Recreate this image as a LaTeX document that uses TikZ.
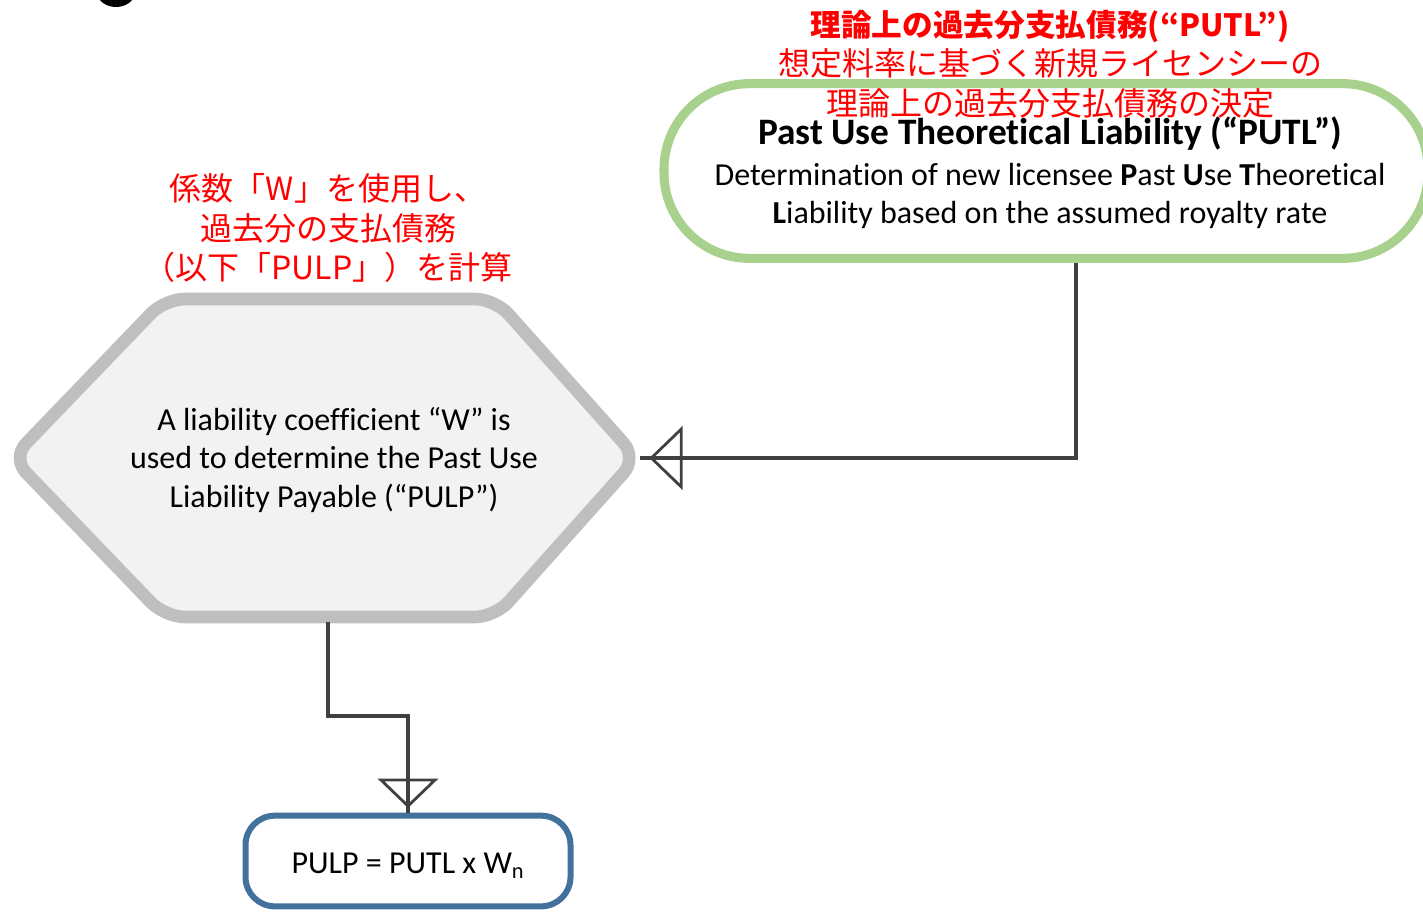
\documentclass[tikz,border=0pt]{standalone}
\usepackage{fontspec}
\setmainfont{Carlito}[RawFeature=-liga]
\newfontfamily\jp{Noto Sans CJK JP}
\definecolor{hexline}{HTML}{BFBFBF}
\definecolor{hexfill}{HTML}{F2F2F2}
\definecolor{greenline}{HTML}{A9D18E}
\definecolor{blueline}{HTML}{41719C}
\definecolor{connc}{HTML}{404040}
\definecolor{jpred}{HTML}{FF0000}
\begin{document}
\begin{tikzpicture}[x=0.75pt,y=-0.75pt,
  conn/.style={draw=connc,line width=2.6pt},
  tri/.style={draw=connc,line width=2.1pt,line join=miter},
  body/.style={font=\fontsize{24}{29}\selectfont,align=center,inner sep=0pt},
  jplabel/.style={font=\jp\fontsize{24}{29.5}\selectfont,text=jpred,align=center,inner sep=0pt}]
\useasboundingbox (0,0) rectangle (1423,911);
\clip (0,0) rectangle (1423,911);
% partial letter at top-left
\fill[black] (116,-8) ellipse [x radius=19, y radius=15];
% PUTL stadium
\node[draw=greenline,line width=6.8pt,rounded corners=64pt,minimum width=573pt,minimum height=131pt,inner sep=0pt] (putl) at (1046,171) {};
\node[font=\bfseries\fontsize{28}{32}\selectfont,inner sep=0pt] (putlT) at (1050,134) {Past Use Theoretical Liability (“PUTL”)};
\node[body] (putlB) at (1050,196) {Determination of new licensee \textbf{P}ast \textbf{U}se \textbf{T}heoretical\\\textbf{L}iability based on the assumed royalty rate};
\node[jplabel] (jpTop) at (1050,64) {{\bfseries\fontsize{23}{29.5}\selectfont 理論上の過去分支払債務(“PUTL”)}\\想定料率に基づく新規ライセンシーの\\理論上の過去分支払債務の決定};
% hexagon
\draw[hexline,fill=hexfill,line width=9.5pt,rounded corners=15pt]
  (12,458) -- (165,299) -- (495,299) -- (637,458) -- (495,617) -- (165,617) -- cycle;
\coordinate (hexR) at (640,458);
\coordinate (hexB) at (328,622);
\node[body] (hex) at (334,460) {A liability coefficient “W” is\\used to determine the Past Use\\Liability Payable (“PULP”)};
\node[jplabel] (jpLeft) at (328,228) {係数「W」を使用し、\\過去分の支払債務\\（以下「PULP」）を計算};
% PULP box
\node[draw=blueline,line width=4.5pt,rounded corners=22pt,minimum width=243.75pt,minimum height=68pt,inner sep=0pt] (pulp) at (408,861) {};
\node[font=\fontsize{24}{26}\selectfont,inner sep=0pt] (pulpT) at (408,866) {PULP = PUTL x W\textsubscript{n}};
% connectors
\draw[conn] ([xshift=22.5pt]putl.south) |- (hexR);
\draw[tri] ([xshift=8.5pt]hexR) -- ++(30,-29) -- ++(0,58) -- cycle;
\draw[conn] (hexB) -- ++(0,94) -| (pulp.north);
\draw[tri] ([yshift=5pt]pulp.north) -- ++(-27,-26) -- ++(54,0) -- cycle;
\end{tikzpicture}
\end{document}
